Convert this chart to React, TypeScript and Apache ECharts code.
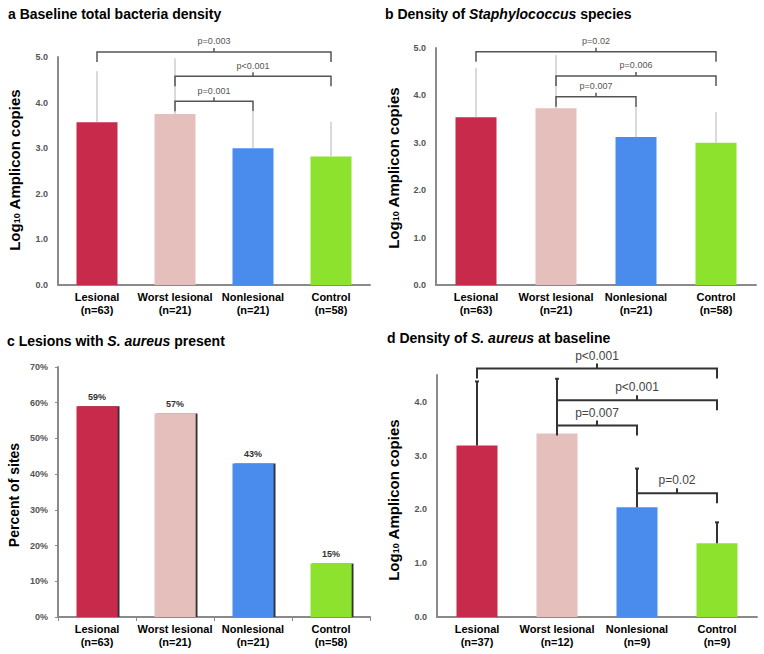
import React, { useEffect, useRef } from "react";
import * as echarts from "echarts";

const groups = ["Lesional", "Worst lesional", "Nonlesional", "Control"];
const barColors = ["#c72a4b", "#e4bfbb", "#4a8cee", "#8de22e"];

const nA = ["63", "21", "21", "58"];
const nB = ["63", "21", "21", "58"];
const nC = ["63", "21", "21", "58"];
const nD = ["37", "12", "9", "9"];

const densityA = [3.57, 3.75, 3.0, 2.82];
const errTopA = [4.69, 4.97, 3.8, 3.58];
const densityB = [3.54, 3.73, 3.12, 3.0];
const errTopB = [4.58, 4.85, 3.8, 3.65];
const percentC = [59, 57, 43, 15];
const densityD = [3.19, 3.41, 2.04, 1.37];
const errTopD = [4.38, 4.43, 2.76, 1.76];

// [fromCategory, toCategory, bracketHeight]
const bracketsA = [[0, 3, 5.11], [1, 3, 4.58], [1, 2, 4.03]];
const bracketLabelsA = ["p=0.003", "p<0.001", "p=0.001"];
const bracketsB = [[0, 3, 4.92], [1, 3, 4.41], [1, 2, 3.97]];
const bracketLabelsB = ["p=0.02", "p=0.006", "p=0.007"];
const bracketsD = [[0, 3, 4.62], [1, 3, 4.03], [1, 2, 3.56], [2, 3, 2.3]];
const bracketLabelsD = ["p<0.001", "p<0.001", "p=0.007", "p=0.02"];

const FONT = "Liberation Sans";

function errRender(cap: number, color: string, width: number) {
  return (params: any, api: any) => {
    const i = api.value(0);
    const v = api.value(1);
    const e = api.value(2);
    const p0 = api.coord([i, v]);
    const p1 = api.coord([i, e]);
    const children: any[] = [
      { type: "line", shape: { x1: p0[0], y1: p0[1], x2: p1[0], y2: p1[1] }, style: { stroke: color, lineWidth: width } },
    ];
    if (cap > 0) {
      children.push({ type: "line", shape: { x1: p1[0] - cap, y1: p1[1], x2: p1[0] + cap, y2: p1[1] }, style: { stroke: color, lineWidth: width } });
    }
    return { type: "group", children };
  };
}

function bracketRender(labels: string[], drop: number, rise: number, color: string, width: number, fontSize: number, textColor: string, gap: number) {
  return (params: any, api: any) => {
    const a = api.value(0);
    const b = api.value(1);
    const y = api.value(2);
    const pa = api.coord([a, y]);
    const pb = api.coord([b, y]);
    const mid = (pa[0] + pb[0]) / 2;
    const yy = pa[1];
    return {
      type: "group",
      children: [
        {
          type: "polyline",
          shape: { points: [[pa[0], yy + drop], [pa[0], yy], [pb[0], yy], [pb[0], yy + drop]] },
          style: { stroke: color, lineWidth: width, fill: "none" },
        },
        { type: "line", shape: { x1: mid, y1: yy, x2: mid, y2: yy - rise }, style: { stroke: color, lineWidth: width } },
        {
          type: "text",
          x: mid,
          y: yy - gap,
          style: { text: labels[params.dataIndex], fill: textColor, fontSize, fontFamily: FONT, align: "center", verticalAlign: "bottom" },
        },
      ],
    };
  };
}

function xAxisFor(gi: number, ns: string[], ticks: boolean) {
  return {
    type: "category",
    gridIndex: gi,
    data: groups,
    axisLine: { lineStyle: { color: "#8a8a8a", width: 2 } },
    axisTick: ticks ? { show: true, length: 4, alignWithLabel: false, lineStyle: { color: "#8a8a8a" } } : { show: false },
    axisLabel: {
      interval: 0,
      margin: 5,
      color: "#000",
      fontFamily: FONT,
      fontWeight: "bold",
      fontSize: 11,
      lineHeight: 13,
      formatter: (v: string, i: number) => `${v}\n(n=${ns[i]})`,
    },
  };
}

function yAxisFor(gi: number, max: number, interval: number, fmt: (v: number) => string, ticks: boolean) {
  return {
    type: "value",
    gridIndex: gi,
    min: 0,
    max,
    interval,
    splitLine: { show: false },
    axisLine: { show: true, lineStyle: { color: "#8a8a8a", width: 2 } },
    axisTick: ticks ? { show: true, length: 3, lineStyle: { color: "#8a8a8a" } } : { show: false },
    axisLabel: { margin: 10, color: "#555", fontFamily: FONT, fontWeight: "bold", fontSize: 9, formatter: fmt },
  };
}

function barSeries(gi: number, values: number[], extra: any = {}) {
  return {
    type: "bar",
    xAxisIndex: gi,
    yAxisIndex: gi,
    barWidth: 41,
    data: values.map((v, i) => ({ value: v, itemStyle: { color: barColors[i], ...(extra.itemStyle || {}) } })),
    label: extra.label,
    z: 2,
  };
}

function errSeries(gi: number, values: number[], tops: number[], cap: number, color: string, width: number) {
  return {
    type: "custom",
    xAxisIndex: gi,
    yAxisIndex: gi,
    renderItem: errRender(cap, color, width),
    data: values.map((v, i) => [i, v, tops[i]]),
    z: 3,
  };
}

function bracketSeries(gi: number, data: number[][], labels: string[], drop: number, rise: number, color: string, width: number, fontSize: number, textColor: string, gap: number) {
  return {
    type: "custom",
    xAxisIndex: gi,
    yAxisIndex: gi,
    clip: false,
    renderItem: bracketRender(labels, drop, rise, color, width, fontSize, textColor, gap),
    data,
    z: 4,
  };
}

const titleStyle = { fontFamily: FONT, fontWeight: "bold", fontSize: 14, fill: "#000" };
const italicRich = { i: { fontFamily: FONT, fontWeight: "bold", fontStyle: "italic", fontSize: 14, fill: "#000" } };
const subRich = {
  s: { fontFamily: FONT, fontWeight: "bold", fontSize: 9, fill: "#000", padding: [6, 0, 0, 0] },
};

function yTitle(x: number, y: number, text: string, size: number) {
  return {
    type: "text",
    x,
    y,
    rotation: Math.PI / 2,
    style: { text, fontFamily: FONT, fontWeight: "bold", fontSize: size, fill: "#000", align: "center", verticalAlign: "middle", rich: subRich },
  };
}

export default function App() {
  const ref = useRef<HTMLDivElement>(null);
  useEffect(() => {
    if (!ref.current) return;
    const chart = echarts.init(ref.current, undefined, { renderer: "svg" });
    const fmt1 = (v: number) => v.toFixed(1);
    const fmtD = (v: number) => (Math.abs(v - Math.round(v)) < 1e-6 ? v.toFixed(1) : "");
    chart.setOption({
      animation: false,
      backgroundColor: "#fff",
      grid: [
        { left: 58, top: 57, width: 312, height: 228 },
        { left: 436, top: 48, width: 320, height: 237 },
        { left: 58, top: 367, width: 312, height: 250 },
        { left: 437, top: 375, width: 320, height: 242 },
      ],
      xAxis: [xAxisFor(0, nA, false), xAxisFor(1, nB, false), xAxisFor(2, nC, true), xAxisFor(3, nD, false)],
      yAxis: [
        yAxisFor(0, 5, 1, fmt1, false),
        yAxisFor(1, 5, 1, fmt1, false),
        yAxisFor(2, 70, 10, (v: number) => `${v}%`, true),
        yAxisFor(3, 4.5, 1, fmtD, false),
      ],
      series: [
        barSeries(0, densityA),
        errSeries(0, densityA, errTopA, 0, "#b5b5b5", 1),
        bracketSeries(0, bracketsA, bracketLabelsA, 10, 4, "#555", 1.5, 9, "#555", 6),
        barSeries(1, densityB),
        errSeries(1, densityB, errTopB, 0, "#b5b5b5", 1),
        bracketSeries(1, bracketsB, bracketLabelsB, 10, 4, "#555", 1.5, 9, "#555", 6),
        barSeries(2, percentC, {
          itemStyle: { shadowColor: "#333", shadowOffsetX: 2, shadowOffsetY: 0, shadowBlur: 0 },
          label: { show: true, position: "top", distance: 5, formatter: "{c}%", color: "#333", fontFamily: FONT, fontWeight: "bold", fontSize: 9 },
        }),
        barSeries(3, densityD),
        errSeries(3, densityD, errTopD, 2, "#333", 2),
        bracketSeries(3, bracketsD, bracketLabelsD, 10, 5, "#333", 2, 12, "#444", 7),
      ],
      graphic: [
        { type: "text", x: 8, y: 14, style: { text: "a Baseline total bacteria density", ...titleStyle, verticalAlign: "middle" } },
        { type: "text", x: 385, y: 14, style: { text: "b Density of {i|Staphylococcus} species", ...titleStyle, verticalAlign: "middle", rich: italicRich } },
        { type: "text", x: 7, y: 341, style: { text: "c Lesions with {i|S. aureus} present", ...titleStyle, verticalAlign: "middle", rich: italicRich } },
        { type: "text", x: 387, y: 338, style: { text: "d Density of {i|S. aureus} at baseline", ...titleStyle, verticalAlign: "middle", rich: italicRich } },
        yTitle(14, 170, "Log{s|10} Amplicon copies", 15),
        yTitle(393, 168, "Log{s|10} Amplicon copies", 15),
        yTitle(14, 495, "Percent of sites", 14),
        yTitle(393, 500, "Log{s|10} Amplicon copies", 15),
      ],
    });
    return () => chart.dispose();
  }, []);
  return <div ref={ref} style={{ position: "fixed", left: 0, top: 0, width: 764, height: 654 }} />;
}
